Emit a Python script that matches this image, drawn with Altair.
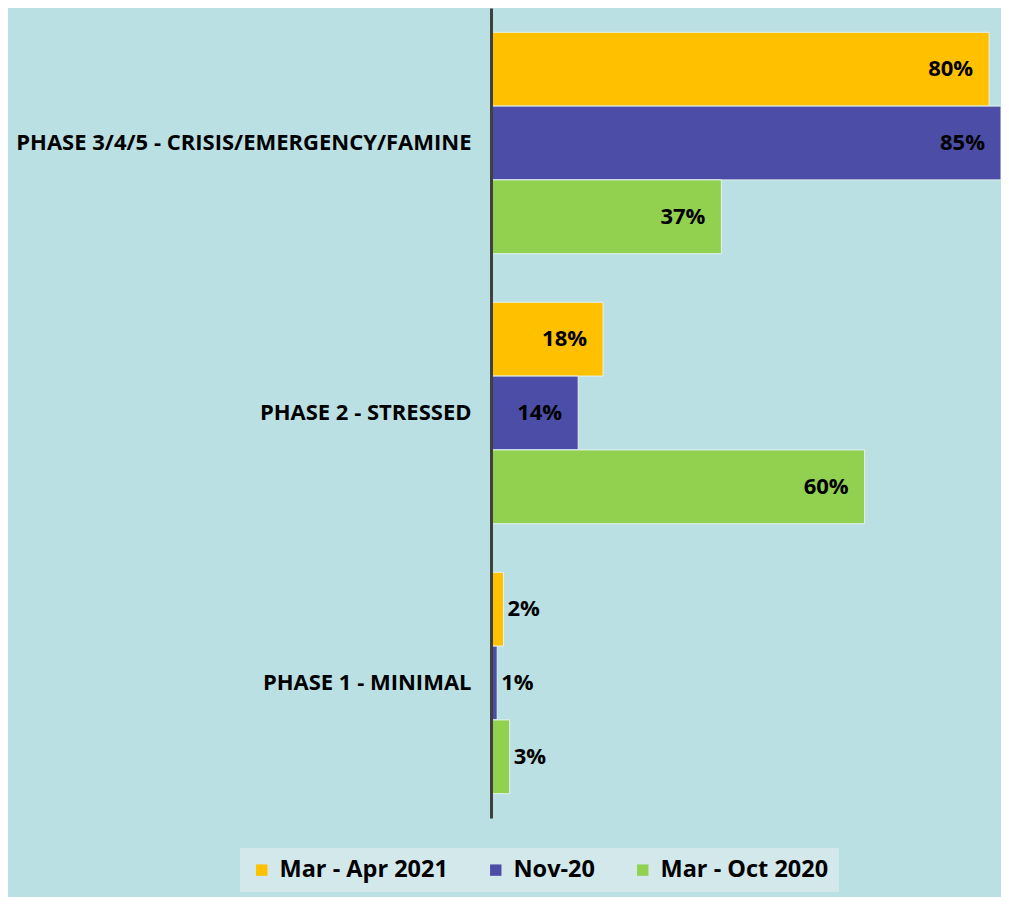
import altair as alt
import pandas as pd

categories = ["PHASE 3/4/5 - CRISIS/EMERGENCY/FAMINE", "PHASE 2 - STRESSED", "PHASE 1 - MINIMAL"]
series_names = ["Mar - Apr 2021", "Nov-20", "Mar - Oct 2020"]
mar_apr_2021 = [80, 18, 2]
nov_20 = [85, 14, 1]
mar_oct_2020 = [37, 60, 3]
colors = ["#FFC000", "#4B4DA6", "#92D050"]

rows = []
for s, vals in zip(series_names, [mar_apr_2021, nov_20, mar_oct_2020]):
    for c, v in zip(categories, vals):
        rows.append({"phase": c, "series": s, "value": v, "label": f"{v}%"})
df = pd.DataFrame(rows)

FONT = "Open Sans"

y_enc = alt.Y("phase:N", sort=categories,
              scale=alt.Scale(paddingInner=0.18, paddingOuter=0.09),
              axis=alt.Axis(title=None, ticks=False, labelFontSize=22, labelFontWeight="bold",
                            labelColor="#000000", labelFont=FONT, labelPadding=20,
                            domainColor="#404040", domainWidth=3, labelLimit=600, zindex=1))
yoff = alt.YOffset("series:N", sort=series_names, scale=alt.Scale(paddingInner=0, paddingOuter=0))
x_enc = alt.X("value:Q", scale=alt.Scale(domain=[0, 81.9], clamp=True, nice=False), axis=None)

bars = alt.Chart().mark_bar(stroke="#E4F2F2", strokeWidth=1).encode(
    x=x_enc, y=y_enc, yOffset=yoff,
    color=alt.Color("series:N", sort=series_names,
                    scale=alt.Scale(domain=series_names, range=colors),
                    legend=alt.Legend(title=None, orient="none", legendX=-251, legendY=840,
                                      direction="horizontal", fillColor="#D2E8EB",
                                      padding=10, labelFontSize=23.5, labelFontWeight="bold",
                                      labelFont=FONT, labelColor="#000000", labelLimit=400,
                                      symbolType="square", symbolSize=130, symbolStrokeWidth=0,
                                      columnPadding=36, labelOffset=6)),
)

text_in = alt.Chart().transform_filter("datum.value >= 10").mark_text(
    align="right", baseline="middle", dx=-16, fontSize=22, fontWeight="bold", font=FONT, color="#000000"
).encode(x=x_enc, y=y_enc, yOffset=yoff, text="label:N")

text_out = alt.Chart().transform_filter("datum.value < 10").mark_text(
    align="left", baseline="middle", dx=4, fontSize=22, fontWeight="bold", font=FONT, color="#000000"
).encode(x=x_enc, y=y_enc, yOffset=yoff, text="label:N")

chart = alt.layer(bars, text_in, text_out, data=df).properties(
    width=510, height=810, background="#BAE0E3",
    padding={"left": 483, "top": 0, "right": 0, "bottom": 79},
    autosize=alt.AutoSizeParams(type="none"),
).configure_view(stroke=None)

chart.save("out.html", embed_options={"renderer": "svg", "actions": False})
